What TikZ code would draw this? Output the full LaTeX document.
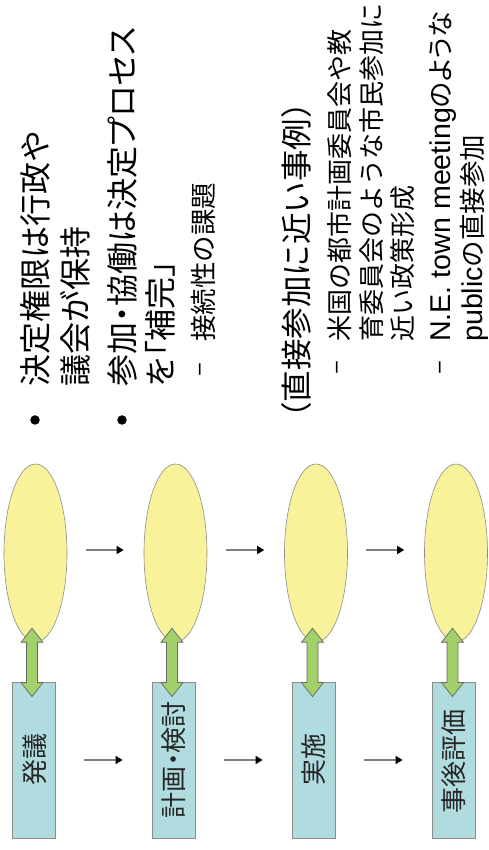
\documentclass[tikz,border=0pt]{standalone}
\usepackage{fontspec}
\setmainfont{Noto Sans CJK JP}
\newfontfamily\jpp[RawFeature=+palt]{Noto Sans CJK JP}
\newfontfamily\lat[Scale=1.08]{Liberation Sans}
\usetikzlibrary{arrows.meta,calc,shapes.geometric}
\definecolor{ellfill}{HTML}{F8F29B}
\definecolor{rectfill}{HTML}{B0DCE0}
\definecolor{grnfill}{HTML}{A2D16B}
\definecolor{bordergray}{HTML}{8C8C8C}
\definecolor{flowgray}{HTML}{808080}
\begin{document}
\begin{tikzpicture}[x=1pt,y=1pt,
  stage/.style={ellipse,draw=bordergray,line width=0.6pt,fill=ellfill,minimum width=63pt,minimum height=178pt,inner sep=0pt},
  actbox/.style={rectangle,draw=bordergray,line width=0.8pt,fill=rectfill,minimum width=43pt,minimum height=156pt,inner sep=0pt},
  actlabel/.style={rotate=90,inner sep=0pt,text=black!85,font=\fontsize{26}{26}\selectfont},
  flow/.style={draw=flowgray,line width=1.4pt,-{Triangle[length=7pt,width=8pt,color=black]}},
  garrow/.style={draw=black!60,line width=0.7pt,fill=grnfill,line join=miter},
  lvlone/.style={rotate=90,anchor=west,inner sep=0pt,font=\fontsize{32}{32}\selectfont},
  lvltwo/.style={rotate=90,anchor=west,inner sep=0pt,font=\fontsize{26.5}{26.5}\selectfont},
  dashmark/.style={rotate=90,anchor=center,inner sep=0pt,font=\fontsize{26}{26}\selectfont},
  bulletdot/.style={circle,fill=black,minimum size=9.5pt,inner sep=0pt}]
\useasboundingbox (0,0) rectangle (488,850);

% ellipses
\node[stage] (e1) at (35.5,297) {};
\node[stage] (e2) at (175.5,297) {};
\node[stage] (e3) at (316,297) {};
\node[stage] (e4) at (456,297) {};

% boxes
\node[actbox] (r1) at (33.5,90) {};
\node[actbox] (r2) at (173.5,90) {};
\node[actbox] (r3) at (313.5,90) {};
\node[actbox] (r4) at (453.5,90) {};
\node[actlabel] (l1) at (35,90) {発議};
\node[actlabel] (l2) at (173.5,90) {\jpp 計画・検討};
\node[actlabel] (l3) at (314,90) {実施};
\node[actlabel] (l4) at (454,88) {事後評価};

% flow arrows
\draw[flow] ([xshift=18.5pt,yshift=3pt]e1.east) -- ([xshift=-20pt,yshift=3pt]e2.west);
\draw[flow] ([xshift=18.5pt,yshift=3pt]e2.east) -- ([xshift=-20pt,yshift=3pt]e3.west);
\draw[flow] ([xshift=18.5pt,yshift=3pt]e3.east) -- ([xshift=-20pt,yshift=3pt]e4.west);
\draw[flow] ([xshift=28.5pt]r1.east) -- ([xshift=-29pt]r2.west);
\draw[flow] ([xshift=28.5pt]r2.east) -- ([xshift=-29pt]r3.west);
\draw[flow] ([xshift=28.5pt]r3.east) -- ([xshift=-29pt]r4.west);

% green double arrows
\foreach \i in {1,2,3,4}{
  \coordinate (t\i) at ([xshift=-3.5pt,yshift=14pt]e\i.south);
  \coordinate (b\i) at ([xshift=-1.5pt,yshift=-15pt]r\i.north);
  \draw[garrow] let \p1=(t\i), \p2=(b\i) in
    (\x1,\y1) -- (\x1+11,\y1-14) -- (\x1+5.5,\y1-14) -- (\x1+5.5,\y2+14)
    -- (\x1+11,\y2+14) -- (\x1,\y2) -- (\x1-11,\y2+14) -- (\x1-5.5,\y2+14)
    -- (\x1-5.5,\y1-14) -- (\x1-11,\y1-14) -- cycle;
}

% left text block
\node[bulletdot] (b1dot) at (35,430) {};
\node[lvlone] (t1a) at (35,463) {決定権限は行政や};
\node[lvlone] (t1b) at (75,463) {議会が保持};
\node[bulletdot] (b2dot) at (122,430) {};
\node[lvlone] (t2a) at (122,463) {\jpp 参加・協働は決定プロセス};
\node[lvlone] (t2b) at (160,463) {\jpp を「補完」};
\node[dashmark] (d1) at (203,480) {–};
\node[lvltwo] (t3a) at (203,508) {接続性の課題};

% right text block
\node[lvlone,font=\fontsize{31.5}{31.5}\selectfont] (h1) at (297,416) {（直接参加に近い事例）};
\node[dashmark] (d2) at (340,482) {–};
\node[lvltwo,font=\fontsize{26}{26}\selectfont] (s1a) at (340,508) {米国の都市計画委員会や教};
\node[lvltwo,font=\fontsize{26}{26}\selectfont] (s1b) at (372,508) {育委員会のような市民参加に};
\node[lvltwo,font=\fontsize{26}{26}\selectfont] (s1c) at (403,508) {近い政策形成};
\node[dashmark] (d3) at (443,482) {–};
\node[lvltwo] (s2a) at (443,508) {{\lat N.E. town meeting}{\jpp のような}};
\node[lvltwo] (s2b) at (474.5,508) {{\lat public}の直接参加};
\end{tikzpicture}
\end{document}
